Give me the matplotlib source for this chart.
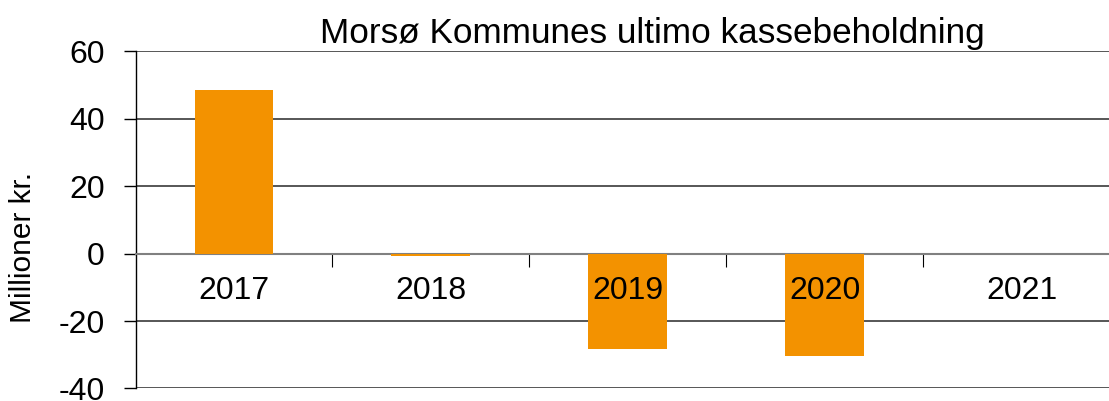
import numpy as np
import matplotlib.pyplot as plt

years = ['2017', '2018', '2019', '2020', '2021']
values = [48.4, -0.6, -28.2, -30.3, 0.0]
yticks = [-40, -20, 0, 20, 40, 60]

plt.rcParams['font.family'] = ['Liberation Sans', 'DejaVu Sans']
plt.rcParams['axes.unicode_minus'] = False

fig = plt.figure(figsize=(11.09, 4.01), dpi=100)
ax = fig.add_axes([0.1222, 0.0312, 0.8877, 0.841])

x = np.arange(len(years))
ax.bar(x, values, width=0.4, color='#F39200', zorder=3)

ax.set_xlim(-0.5, len(years) - 0.5)
ax.set_ylim(-40, 60)
ax.set_yticks(yticks)
ax.tick_params(axis='y', direction='out', length=9, width=1, pad=13, labelsize=23)

for y in yticks:
    ax.axhline(y, color='#3a3a3a', lw=1.2, zorder=1)

# category boundaries as ticks hanging from the zero line
ax.spines['bottom'].set_position(('data', 0))
ax.spines['bottom'].set_color('#808080')
ax.spines['bottom'].set_linewidth(1.5)
ax.set_xticks(x[:-1] + 0.5)
ax.set_xticklabels([])
ax.tick_params(axis='x', direction='out', length=9, width=0.8)

for s in ['top', 'right']:
    ax.spines[s].set_visible(False)
ax.spines['left'].set_linewidth(1)

for i, lab in enumerate(years):
    ax.annotate(lab, (i, 0), xytext=(0, -45), textcoords='offset pixels',
                ha='center', va='baseline', fontsize=23, zorder=4)

ax.set_ylabel('Millioner kr.', fontsize=21.5)
ax.yaxis.set_label_coords(-0.1, 0.417)
fig.text(652 / 1109, 1 - 43 / 401, 'Morsø Kommunes ultimo kassebeholdning',
         ha='center', va='baseline', fontsize=25.3)

fig.savefig('out.png', dpi=100)
